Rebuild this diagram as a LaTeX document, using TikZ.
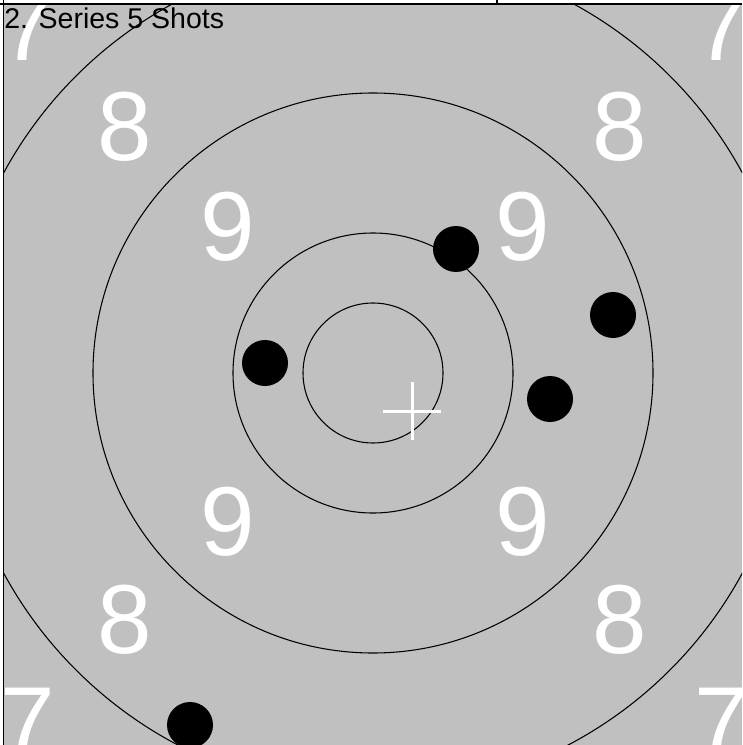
\documentclass[tikz,border=0pt]{standalone}
\usepackage{fontspec}
\setmainfont{Liberation Sans}
\usepackage{tikz}

\begin{document}
\begin{tikzpicture}[x=0.75pt,y=-0.75pt]
\useasboundingbox (0,0) rectangle (742,745);
\fill[white] (0,0) rectangle (742,745);
\fill[gray!50!lightgray,fill={rgb,255:red,192;green,192;blue,192}] (4,5) rectangle (742,745);
\begin{scope}
\clip (4,5) rectangle (742,745);
\coordinate (M) at (373,373);
% rings
\draw[line width=0.8pt] (M) circle (70);
\draw[line width=0.8pt] (M) circle (140);
\draw[line width=0.8pt] (M) circle (280);
\draw[line width=0.8pt] (M) circle (420);
% ring numbers
\begin{scope}[every node/.style={text=white,inner sep=0pt,font=\fontsize{73.5}{80}\selectfont}]
\node (r7a) at (28,27) {7};
\node (r7b) at (722,27) {7};
\node (r7c) at (28,722) {7};
\node (r7d) at (722,722) {7};
\node (r8a) at (125,127) {8};
\node (r8b) at (620,127) {8};
\node (r8c) at (125,620) {8};
\node (r8d) at (620,620) {8};
\node (r9a) at (228,227) {9};
\node (r9b) at (523,227) {9};
\node (r9c) at (228,522) {9};
\node (r9d) at (523,522) {9};
\end{scope}
% centre cross
\coordinate (X) at (412,411);
\draw[white,line width=2.25pt] ([xshift=-21.75pt]X) -- ([xshift=21.75pt]X);
\draw[white,line width=2.25pt] ([yshift=-21.75pt]X) -- ([yshift=21.75pt]X);
% shots
\begin{scope}[every node/.style={circle,fill=black,inner sep=0pt,minimum size=34.5pt}]
\node (s1) at (456,249) {};
\node (s2) at (613,315) {};
\node (s3) at (265,363) {};
\node (s4) at (550,399) {};
\node (s5) at (190,725) {};
\end{scope}
\end{scope}
% frame
\draw[line width=1.5pt] (0,4) -- (742,4);
\draw[line width=1pt] (3.5,0) -- (3.5,745);
\draw[line width=1pt] (497,0) -- (497,4);
\node[anchor=base west,inner sep=0pt,font=\fontsize{21.4}{24}\selectfont] (title) at (4,29) {2. Series 5 Shots};
\end{tikzpicture}
\end{document}
